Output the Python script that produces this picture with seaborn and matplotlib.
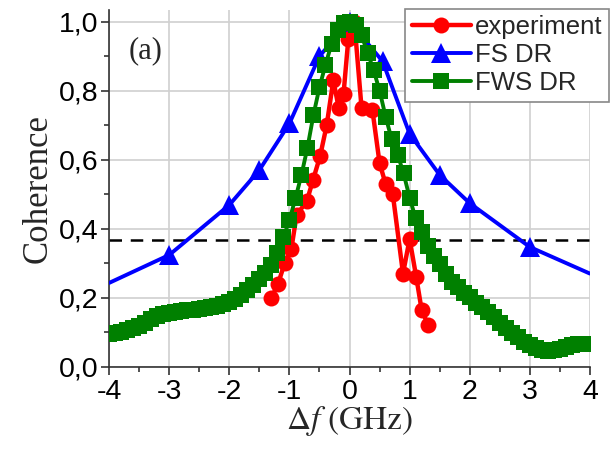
import matplotlib
matplotlib.use("Agg")
import matplotlib.pyplot as plt
import matplotlib.ticker as mticker
import seaborn as sns
import pandas as pd

# experiment (red circles)
exp_x = [-1.30, -1.19, -1.08, -0.97, -0.88, -0.71, -0.61, -0.49, -0.38, -0.27,
         -0.18, -0.10, -0.02, 0.08, 0.20, 0.38, 0.50, 0.60, 0.72, 0.89,
         1.00, 1.11, 1.20, 1.31]
exp_y = [0.20, 0.24, 0.30, 0.34, 0.44, 0.48, 0.54, 0.61, 0.70, 0.83,
         0.75, 0.79, 0.95, 1.00, 0.75, 0.745, 0.59, 0.53, 0.50, 0.27,
         0.37, 0.26, 0.165, 0.12]

# FS DR (blue triangles); the end points at +-4 carry no marker
fs_x = [-4.0, -3.0, -2.0, -1.5, -1.0, -0.5, 0.0, 0.55, 1.0, 1.5, 2.0, 3.0, 4.0]
fs_y = [0.243, 0.324, 0.469, 0.570, 0.705, 0.90, 1.00, 0.885, 0.675, 0.556, 0.474, 0.347, 0.27]

# FWS DR (green squares), one point every 0.1 GHz
fws_x = [round(-4.0 + 0.1 * i, 1) for i in range(81)]
fws_y = [0.095, 0.098, 0.102, 0.107, 0.112, 0.118, 0.127, 0.137, 0.146, 0.152,
         0.157, 0.160, 0.162, 0.164, 0.165, 0.167, 0.169, 0.172, 0.176, 0.182,
         0.189, 0.197, 0.208, 0.222, 0.238, 0.254, 0.272, 0.296, 0.330, 0.375,
         0.425, 0.488, 0.556, 0.635, 0.730, 0.810, 0.875, 0.935, 0.975, 0.995,
         1.000,
         0.990, 0.960, 0.910, 0.860, 0.800, 0.725, 0.660, 0.615, 0.560, 0.490,
         0.430, 0.390, 0.350, 0.322, 0.297, 0.268, 0.247, 0.230, 0.215, 0.201,
         0.186, 0.172, 0.158, 0.144, 0.128, 0.112, 0.098, 0.085, 0.072, 0.062,
         0.054, 0.049, 0.047, 0.048, 0.052, 0.058, 0.062, 0.065, 0.066, 0.067]

threshold = 0.367  # 1/e level

sns.set_style("ticks")
plt.rcParams["font.family"] = ["Liberation Sans", "DejaVu Sans"]
plt.rcParams["mathtext.fontset"] = "stix"
plt.rcParams["axes.unicode_minus"] = False

fig = plt.figure(figsize=(6.1, 4.5), dpi=100)
ax = fig.add_axes([0.179, 0.185, 0.788, 0.793])

ax.grid(True, which="major", color="#d0d0d0", linewidth=1.2)
ax.set_axisbelow(True)
ax.axhline(threshold, color="black", linestyle=(0, (5, 3.5)), linewidth=1.8, zorder=1)

df_fs = pd.DataFrame({"x": fs_x, "y": fs_y})
df_exp = pd.DataFrame({"x": exp_x, "y": exp_y})
df_fws = pd.DataFrame({"x": fws_x, "y": fws_y})

sns.lineplot(data=df_fs, x="x", y="y", ax=ax, sort=False, estimator=None,
             color="#0000ff", linewidth=2.8, marker="^", markersize=14,
             markeredgewidth=0, markevery=list(range(1, len(fs_x) - 1)),
             label="FS DR", zorder=3)
sns.lineplot(data=df_exp, x="x", y="y", ax=ax, sort=False, estimator=None,
             color="#ff0000", linewidth=3.2, marker="o", markersize=11.5,
             markeredgewidth=0, label="experiment", zorder=4)
sns.lineplot(data=df_fws, x="x", y="y", ax=ax, sort=False, estimator=None,
             color="#008000", linewidth=2.8, marker="s", markersize=11,
             markeredgewidth=0, label="FWS DR", zorder=5)

ax.set_xlim(-4, 4)
ax.set_ylim(0, 1.034)
ax.xaxis.set_major_locator(mticker.MultipleLocator(1))
ax.xaxis.set_minor_locator(mticker.MultipleLocator(0.5))
ax.yaxis.set_major_locator(mticker.MultipleLocator(0.2))
ax.yaxis.set_minor_locator(mticker.MultipleLocator(0.1))
ax.xaxis.set_major_formatter(mticker.FuncFormatter(lambda v, p: f"{v:.0f}"))
ax.yaxis.set_major_formatter(mticker.FuncFormatter(lambda v, p: f"{v:.1f}".replace(".", ",")))
ax.tick_params(axis="both", which="major", direction="out", length=6, width=1.2,
               labelsize=20.5, color="#333333", labelcolor="black")
ax.tick_params(axis="both", which="minor", direction="out", length=3.5, width=1.2,
               color="#333333")
ax.tick_params(axis="x", pad=3)
ax.tick_params(axis="y", pad=2)

for side in ("top", "right"):
    ax.spines[side].set_visible(False)
for side in ("left", "bottom"):
    ax.spines[side].set_linewidth(1.2)
    ax.spines[side].set_color("#333333")

ax.set_ylabel("Coherence", family=["Liberation Serif"], fontsize=25, labelpad=3)
ax.set_xlabel(r"$\Delta f\ \mathrm{(GHz)}$", fontsize=24, labelpad=-1)

ax.text(-3.39, 0.915, "(a)", family=["Liberation Serif"], fontsize=22,
        ha="center", va="center")

# legend order as in the reference
handles, labels = ax.get_legend_handles_labels()
order = [labels.index(n) for n in ("experiment", "FS DR", "FWS DR")]
leg = ax.legend([handles[i] for i in order], [labels[i] for i in order],
                loc="upper right", bbox_to_anchor=(0.998, 0.98),
                bbox_transform=fig.transFigure, borderaxespad=0,
                fontsize=18.5, handlelength=2.3, handletextpad=0.15,
                labelspacing=0.15, borderpad=0.25, fancybox=False,
                framealpha=1, edgecolor="#888888")
leg.get_frame().set_linewidth(1.2)

fig.savefig("out.png", dpi=100)
